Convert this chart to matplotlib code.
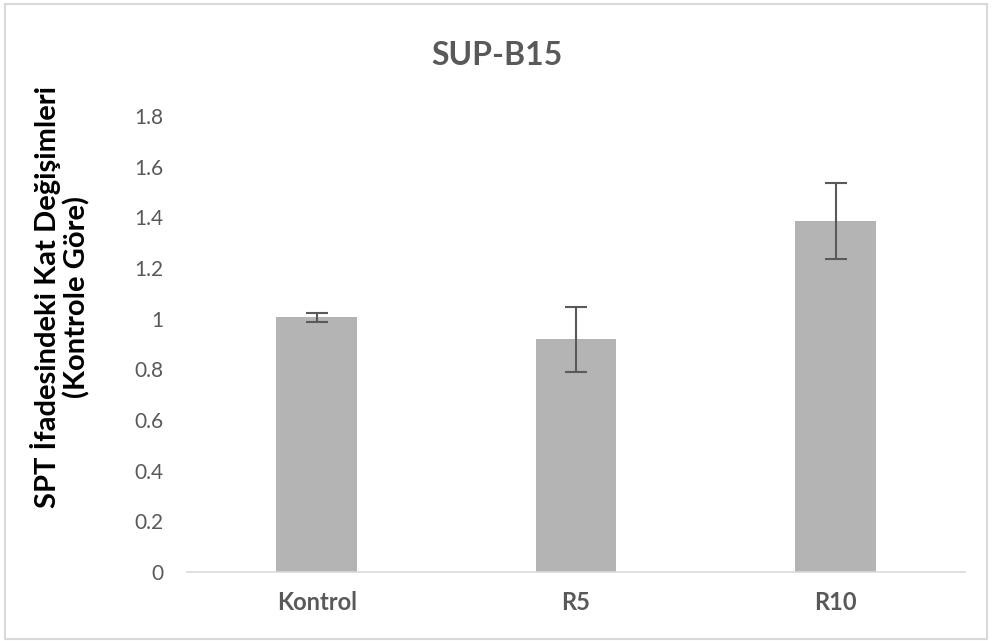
import matplotlib
matplotlib.use("Agg")
import matplotlib.pyplot as plt
from matplotlib.patches import Rectangle

categories = ['Kontrol', 'R5', 'R10']
fold_change = [1.005, 0.918, 1.385]
errors = [0.017, 0.13, 0.15]
y_ticks = [0, 0.2, 0.4, 0.6, 0.8, 1, 1.2, 1.4, 1.6, 1.8]
y_tick_labels = ['0', '0.2', '0.4', '0.6', '0.8', '1', '1.2', '1.4', '1.6', '1.8']

plt.rcParams['font.family'] = ['Lato', 'DejaVu Sans']

fig = plt.figure(figsize=(9.92, 6.41), dpi=100)
ax = fig.add_axes([0.1885, 0.1076, 0.7845, 0.7114])

x = range(len(categories))
ax.bar(x, fold_change, width=0.31, color='#B4B4B4', zorder=2)
ax.errorbar(x, fold_change, yerr=errors, fmt='none', ecolor='#5A5A5A',
            elinewidth=1.5, capsize=8, capthick=1.5, zorder=3)

ax.set_xlim(-0.5, 2.5)
ax.set_ylim(0, 1.8)
ax.set_yticks(y_ticks)
ax.set_yticklabels(y_tick_labels)
ax.set_xticks(list(x))
ax.set_xticklabels(categories, fontweight='bold')

for side in ['top', 'right', 'left']:
    ax.spines[side].set_visible(False)
ax.spines['bottom'].set_color('#D9D9D9')
ax.spines['bottom'].set_linewidth(1.2)
ax.tick_params(axis='both', length=0, colors='#595959', labelsize=15)
ax.tick_params(axis='y', pad=17)
ax.tick_params(axis='x', pad=14, labelsize=17)

fig.text(0.501, 0.914, 'SUP-B15', ha='center', va='center', fontsize=23,
         fontweight='bold', color='#595959')
fig.text(0.061, 0.537, 'SPT İfadesindeki Kat Değişimleri\n(Kontrole Göre)',
         ha='center', va='center', rotation=90, fontsize=21, fontweight='bold',
         color='black', linespacing=1.1)

# outer chart border
fig.patches.append(Rectangle((0.005, 0.003), 0.99, 0.99, transform=fig.transFigure,
                             fill=False, edgecolor='#D9D9D9', linewidth=1.5))

fig.savefig('out.png', dpi=100)
